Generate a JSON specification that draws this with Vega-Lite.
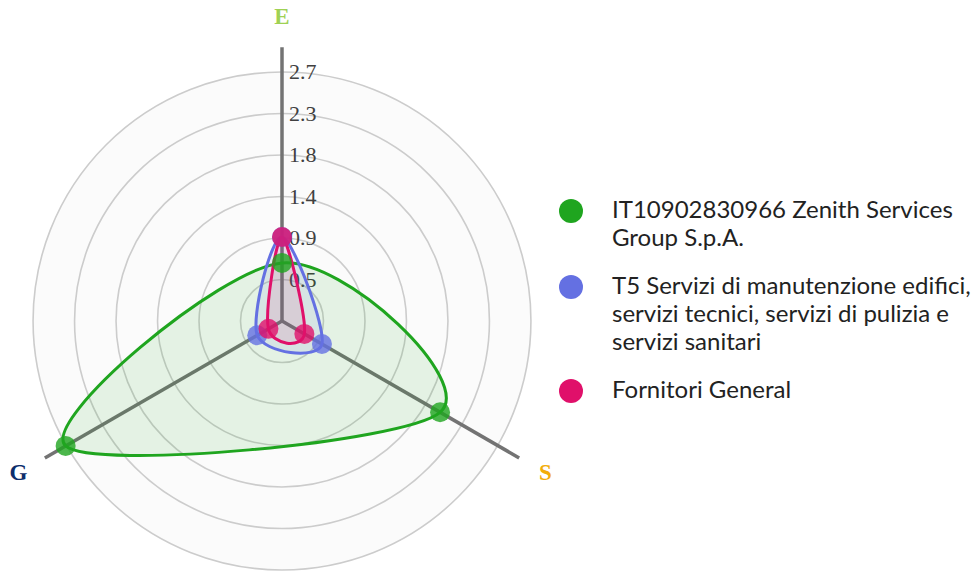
{
  "$schema": "https://vega.github.io/schema/vega-lite/v6.json",
  "width": 564,
  "height": 564,
  "autosize": {"type": "none"},
  "padding": {"left": 0, "top": 39, "right": 413, "bottom": 0},
  "background": "white",
  "config": {"view": {"stroke": null}, "style": {"guide-label": {"lineHeight": 28}}},
  "datasets": {
    "series": [
      {"series": "IT10902830966 Zenith Services Group S.p.A.", "axis": "E", "value": 0.63},
      {"series": "IT10902830966 Zenith Services Group S.p.A.", "axis": "S", "value": 1.98},
      {"series": "IT10902830966 Zenith Services Group S.p.A.", "axis": "G", "value": 2.71},
      {"series": "T5 Servizi di manutenzione edifici, servizi tecnici, servizi di pulizia e servizi sanitari", "axis": "E", "value": 0.91},
      {"series": "T5 Servizi di manutenzione edifici, servizi tecnici, servizi di pulizia e servizi sanitari", "axis": "S", "value": 0.5},
      {"series": "T5 Servizi di manutenzione edifici, servizi tecnici, servizi di pulizia e servizi sanitari", "axis": "G", "value": 0.31},
      {"series": "Fornitori General", "axis": "E", "value": 0.91},
      {"series": "Fornitori General", "axis": "S", "value": 0.28},
      {"series": "Fornitori General", "axis": "G", "value": 0.17}
    ],
    "rings": [
      {"r": 0.45, "label": "0.5"},
      {"r": 0.9, "label": "0.9"},
      {"r": 1.35, "label": "1.4"},
      {"r": 1.8, "label": "1.8"},
      {"r": 2.25, "label": "2.3"},
      {"r": 2.7, "label": "2.7"}
    ],
    "axes": [
      {"axis": "E"},
      {"axis": "S"},
      {"axis": "G"}
    ]
  },
  "layer": [
    {
      "data": {"name": "rings"},
      "transform": [{"filter": "datum.r == 2.7"}],
      "mark": {"type": "point", "shape": "circle", "filled": true, "fill": "#fbfbfb", "strokeWidth": 0, "opacity": 1},
      "encoding": {
        "x": {"datum": 0, "type": "quantitative", "scale": {"domain": [-3.0586, 3.0586], "nice": false, "zero": false}, "axis": null},
        "y": {"datum": 0, "type": "quantitative", "scale": {"domain": [-3.0586, 3.0586], "nice": false, "zero": false}, "axis": null},
        "size": {"field": "r", "type": "quantitative", "scale": {"type": "pow", "exponent": 2, "domain": [0, 3.0586], "range": [0, 318096]}, "legend": null}
      }
    },
    {
      "data": {"name": "rings"},
      "mark": {"type": "point", "shape": "circle", "filled": false, "stroke": "#cccccc", "strokeWidth": 1.6, "opacity": 1},
      "encoding": {
        "x": {"datum": 0, "type": "quantitative", "scale": {"domain": [-3.0586, 3.0586], "nice": false, "zero": false}, "axis": null},
        "y": {"datum": 0, "type": "quantitative", "scale": {"domain": [-3.0586, 3.0586], "nice": false, "zero": false}, "axis": null},
        "size": {"field": "r", "type": "quantitative", "scale": {"type": "pow", "exponent": 2, "domain": [0, 3.0586], "range": [0, 318096]}, "legend": null}
      }
    },
    {
      "data": {"name": "axes"},
      "transform": [
        {"calculate": "indexof(['E','S','G'], datum.axis) * 2 * PI / 3", "as": "ang"},
        {"calculate": "2.97 * sin(datum.ang)", "as": "ex"},
        {"calculate": "2.97 * cos(datum.ang)", "as": "ey"}
      ],
      "mark": {"type": "rule", "stroke": "#737373", "strokeWidth": 3.5},
      "encoding": {
        "x": {"field": "ex", "type": "quantitative", "scale": {"domain": [-3.0586, 3.0586], "nice": false, "zero": false}, "axis": null},
        "y": {"field": "ey", "type": "quantitative", "scale": {"domain": [-3.0586, 3.0586], "nice": false, "zero": false}, "axis": null},
        "x2": {"datum": 0},
        "y2": {"datum": 0}
      }
    },
    {
      "data": {"name": "rings"},
      "mark": {"type": "text", "align": "left", "baseline": "middle", "dx": 7, "font": "Liberation Serif", "fontSize": 22, "color": "#404040"},
      "encoding": {
        "x": {"datum": 0, "type": "quantitative", "scale": {"domain": [-3.0586, 3.0586], "nice": false, "zero": false}, "axis": null},
        "y": {"field": "r", "type": "quantitative", "scale": {"domain": [-3.0586, 3.0586], "nice": false, "zero": false}, "axis": null},
        "text": {"field": "label"}
      }
    },
    {
      "data": {"name": "axes"},
      "transform": [
        {"calculate": "indexof(['E','S','G'], datum.axis) * 2 * PI / 3", "as": "ang"},
        {"calculate": "3.3 * sin(datum.ang)", "as": "lx"},
        {"calculate": "3.3 * cos(datum.ang)", "as": "ly"}
      ],
      "mark": {"type": "text", "align": "center", "baseline": "middle", "font": "Liberation Serif", "fontSize": 23, "fontWeight": "bold"},
      "encoding": {
        "x": {"field": "lx", "type": "quantitative", "scale": {"domain": [-3.0586, 3.0586], "nice": false, "zero": false}, "axis": null},
        "y": {"field": "ly", "type": "quantitative", "scale": {"domain": [-3.0586, 3.0586], "nice": false, "zero": false}, "axis": null},
        "text": {"field": "axis"},
        "fill": {"field": "axis", "type": "nominal", "scale": {"domain": ["E", "S", "G"], "range": ["#9fd154", "#f2ad0a", "#0d2d6b"]}, "legend": null}
      }
    },
    {
      "data": {"name": "series"},
      "transform": [
        {"filter": "datum.series == 'IT10902830966 Zenith Services Group S.p.A.'"},
        {"calculate": "indexof(['E','S','G'], datum.axis)", "as": "idx"},
        {"calculate": "datum.idx * 2 * PI / 3", "as": "ang"},
        {"calculate": "datum.value * sin(datum.ang)", "as": "px"},
        {"calculate": "datum.value * cos(datum.ang)", "as": "py"}
      ],
      "mark": {"type": "line", "interpolate": "cardinal-closed", "stroke": "#1fa51f", "strokeWidth": 3, "fill": "#1fa51f", "fillOpacity": 0.1},
      "encoding": {
        "x": {"field": "px", "type": "quantitative", "scale": {"domain": [-3.0586, 3.0586], "nice": false, "zero": false}, "axis": null},
        "y": {"field": "py", "type": "quantitative", "scale": {"domain": [-3.0586, 3.0586], "nice": false, "zero": false}, "axis": null},
        "order": {"field": "idx", "type": "quantitative"}
      }
    },
    {
      "data": {"name": "series"},
      "transform": [
        {"filter": "datum.series == 'T5 Servizi di manutenzione edifici, servizi tecnici, servizi di pulizia e servizi sanitari'"},
        {"calculate": "indexof(['E','S','G'], datum.axis)", "as": "idx"},
        {"calculate": "datum.idx * 2 * PI / 3", "as": "ang"},
        {"calculate": "datum.value * sin(datum.ang)", "as": "px"},
        {"calculate": "datum.value * cos(datum.ang)", "as": "py"}
      ],
      "mark": {"type": "line", "interpolate": "cardinal-closed", "stroke": "#6470e2", "strokeWidth": 3, "fill": "#6470e2", "fillOpacity": 0.1},
      "encoding": {
        "x": {"field": "px", "type": "quantitative", "scale": {"domain": [-3.0586, 3.0586], "nice": false, "zero": false}, "axis": null},
        "y": {"field": "py", "type": "quantitative", "scale": {"domain": [-3.0586, 3.0586], "nice": false, "zero": false}, "axis": null},
        "order": {"field": "idx", "type": "quantitative"}
      }
    },
    {
      "data": {"name": "series"},
      "transform": [
        {"filter": "datum.series == 'Fornitori General'"},
        {"calculate": "indexof(['E','S','G'], datum.axis)", "as": "idx"},
        {"calculate": "datum.idx * 2 * PI / 3", "as": "ang"},
        {"calculate": "datum.value * sin(datum.ang)", "as": "px"},
        {"calculate": "datum.value * cos(datum.ang)", "as": "py"}
      ],
      "mark": {"type": "line", "interpolate": "cardinal-closed", "stroke": "#e0106a", "strokeWidth": 3, "fill": "#e0106a", "fillOpacity": 0.1},
      "encoding": {
        "x": {"field": "px", "type": "quantitative", "scale": {"domain": [-3.0586, 3.0586], "nice": false, "zero": false}, "axis": null},
        "y": {"field": "py", "type": "quantitative", "scale": {"domain": [-3.0586, 3.0586], "nice": false, "zero": false}, "axis": null},
        "order": {"field": "idx", "type": "quantitative"}
      }
    },
    {
      "data": {"name": "series"},
      "transform": [
        {"calculate": "indexof(['E','S','G'], datum.axis) * 2 * PI / 3", "as": "ang"},
        {"calculate": "datum.value * sin(datum.ang)", "as": "px"},
        {"calculate": "datum.value * cos(datum.ang)", "as": "py"}
      ],
      "mark": {"type": "point", "shape": "circle", "filled": true, "size": 400, "opacity": 0.8, "strokeWidth": 0},
      "encoding": {
        "x": {"field": "px", "type": "quantitative", "scale": {"domain": [-3.0586, 3.0586], "nice": false, "zero": false}, "axis": null},
        "y": {"field": "py", "type": "quantitative", "scale": {"domain": [-3.0586, 3.0586], "nice": false, "zero": false}, "axis": null},
        "color": {
          "field": "series",
          "type": "nominal",
          "scale": {
            "domain": [
              "IT10902830966 Zenith Services Group S.p.A.",
              "T5 Servizi di manutenzione edifici, servizi tecnici, servizi di pulizia e servizi sanitari",
              "Fornitori General"
            ],
            "range": ["#1fa51f", "#6470e2", "#e0106a"]
          },
          "legend": {
            "title": null,
            "orient": "none",
            "legendX": 559,
            "legendY": 160,
            "padding": 0,
            "symbolType": "circle",
            "symbolSize": 576,
            "symbolOpacity": 1,
            "symbolStrokeWidth": 0,
            "labelFont": "Lato",
            "labelFontSize": 24,
            "labelColor": "#222222",
            "labelOffset": 29,
            "labelLimit": 500,
            "labelBaseline": "middle",
            "rowPadding": 24,
            "labelExpr": "datum.label == 'IT10902830966 Zenith Services Group S.p.A.' ? ['IT10902830966 Zenith Services', 'Group S.p.A.'] : datum.label == 'Fornitori General' ? 'Fornitori General' : ['T5 Servizi di manutenzione edifici,', 'servizi tecnici, servizi di pulizia e', 'servizi sanitari']"
          }
        }
      }
    }
  ]
}
